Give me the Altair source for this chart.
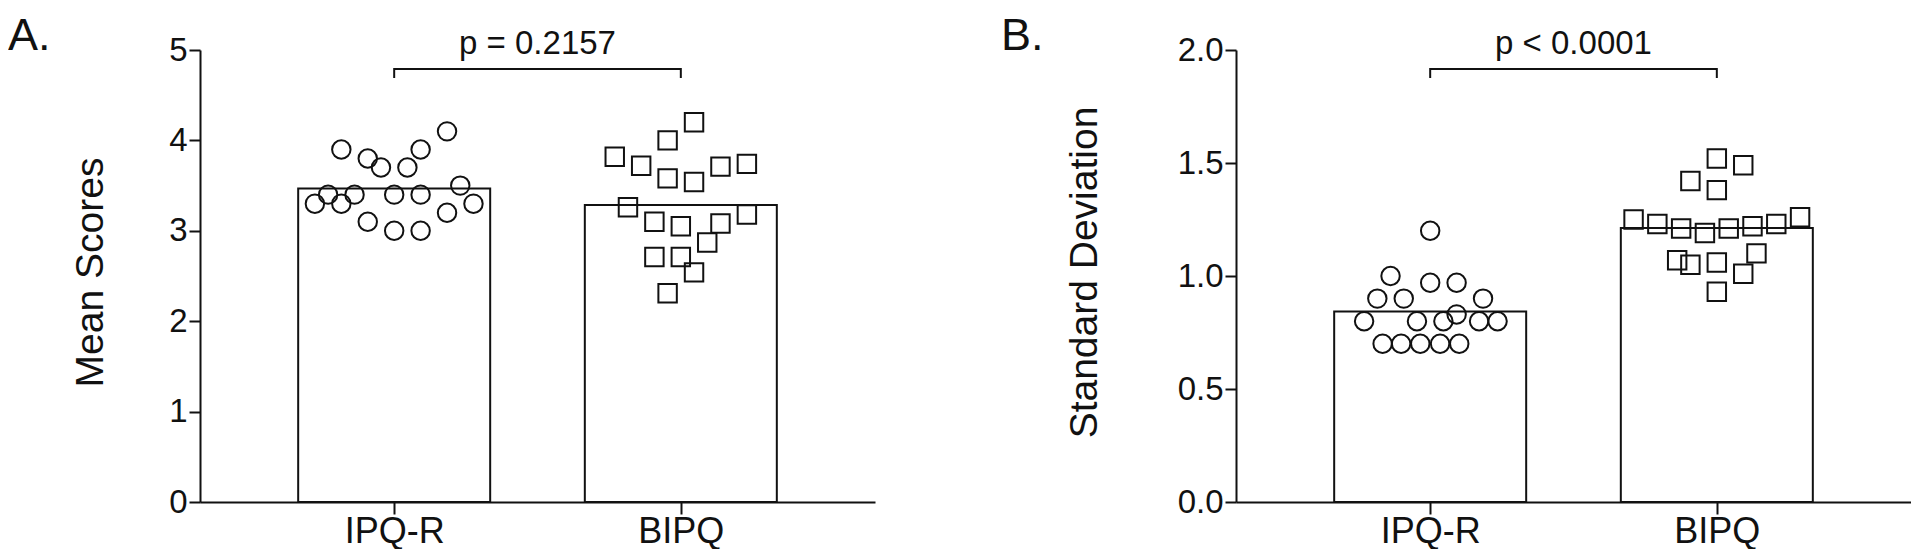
import altair as alt
import pandas as pd

# ---------------- data ----------------
groups = ["IPQ-R", "BIPQ"]

# Panel A: mean scores (value) and beeswarm slot offsets (in half-symbol units)
a_ipqr_vals = [3.9, 3.8, 3.7, 3.7, 3.9, 4.1, 3.4, 3.4, 3.4, 3.4, 3.5, 3.3, 3.3, 3.3, 3.1, 3.0, 3.0, 3.2]
a_ipqr_off = [-4, -2, -1, 1, 2, 4, -5, -3, 0, 2, 5, -6, -4, 6, -2, 0, 2, 4]
a_bipq_vals = [4.2, 4.0, 3.82, 3.72, 3.58, 3.54, 3.71, 3.74, 3.26, 3.10, 3.05, 3.08, 3.18, 2.87, 2.71, 2.71, 2.54, 2.31]
a_bipq_off = [1, -1, -5, -3, -1, 1, 3, 5, -4, -2, 0, 3, 5, 2, -2, 0, 1, -1]

# Panel B: standard deviations
b_ipqr_vals = [1.2, 1.0, 0.97, 0.97, 0.9, 0.9, 0.9, 0.8, 0.8, 0.8, 0.83, 0.8, 0.8, 0.7, 0.7, 0.7, 0.7, 0.7]
b_ipqr_off = [0, -3, 0, 2, -4, -2, 4, -5, -1, 1, 2, 3.7, 5.1, -3.6, -2.2, -0.75, 0.75, 2.2]
b_bipq_vals = [1.52, 1.49, 1.42, 1.38, 1.25, 1.23, 1.21, 1.19, 1.21, 1.22, 1.23, 1.26, 1.07, 1.05, 1.06, 1.10, 1.01, 0.93]
b_bipq_off = [0, 2, -2, 0, -6.3, -4.5, -2.7, -0.9, 0.9, 2.7, 4.5, 6.3, -3, -2, 0, 3, 2, 0]

a_ticks = [0, 1, 2, 3, 4, 5]
b_ticks = [0, 0.5, 1.0, 1.5, 2.0]
p_texts = ["p = 0.2157", "p < 0.0001"]
panel_labels = ["A.", "B."]
y_titles = ["Mean Scores", "Standard Deviation"]

# ---------------- styling ----------------
W, H = 675, 452
FONT = "Liberation Sans"
INK = "#111111"
X_DOMAIN = [-0.66, 1.66]      # category index space (group 0 and 1)
OFF_UNIT = 0.0461             # one beeswarm slot in category-index units
BAR_W = 192                   # bar width in pixels


def panel(v1, o1, v2, o2, ymax, ticks, fmt, ytitle, ptext, label, label_x, title_x):
    df = pd.DataFrame({
        "idx": [0] * len(v1) + [1] * len(v2),
        "value": v1 + v2,
        "off": o1 + o2,
    })
    df["xpos"] = df["idx"] + df["off"] * OFF_UNIT

    label_expr = "[" + ",".join(f"'{g}'" for g in groups) + "][datum.value]"
    xscale = alt.Scale(domain=X_DOMAIN, nice=False, zero=False)
    xaxis = alt.Axis(title=None, values=[0, 1], labelExpr=label_expr, labelFont=FONT,
                     labelFontSize=36, labelColor=INK, labelAngle=0, labelPadding=0,
                     tickSize=12, tickWidth=2, tickColor=INK, domainColor=INK,
                     domainWidth=2, grid=False, labelFlush=False)
    yscale = alt.Scale(domain=[0, ymax], nice=False, zero=True)
    yaxis = alt.Axis(title=ytitle, values=ticks, format=fmt, labelFont=FONT,
                     labelFontSize=33, labelColor=INK, labelPadding=2,
                     tickSize=11, tickWidth=2, tickColor=INK, domainColor=INK,
                     domainWidth=2, grid=False, titleFont=FONT, titleFontSize=39,
                     titleFontWeight="normal", titleColor=INK, titleAngle=270,
                     titleBaseline="bottom", titleAlign="center",
                     titleX=title_x, titleY=H / 2 - 4)

    base = alt.Chart(df)
    bars = base.mark_bar(fill="white", stroke=INK, strokeWidth=2, width=BAR_W).encode(
        x=alt.X("idx:Q", scale=xscale, axis=xaxis),
        y=alt.Y("mean(value):Q", scale=yscale, axis=yaxis),
    )
    pts = base.mark_point(filled=False, color=INK, strokeWidth=2, size=340, opacity=1).encode(
        x=alt.X("xpos:Q"),
        y=alt.Y("value:Q"),
        shape=alt.Shape("idx:N", scale=alt.Scale(domain=[0, 1], range=["circle", "square"]),
                        legend=None),
    )

    br = pd.DataFrame({"idx": [0, 1]})
    br_line = alt.Chart(br).mark_line(stroke=INK, strokeWidth=2).encode(
        x=alt.X("idx:Q"), y=alt.value(19)
    )
    br_ticks = alt.Chart(br).mark_rule(stroke=INK, strokeWidth=2).encode(
        x=alt.X("idx:Q"), y=alt.value(18), y2=alt.value(28)
    )
    ptxt = alt.Chart(pd.DataFrame({"t": [ptext]})).mark_text(
        font=FONT, fontSize=33, color=INK, align="center", baseline="alphabetic"
    ).encode(text="t:N", x=alt.value(W / 2), y=alt.value(4))
    lab = alt.Chart(pd.DataFrame({"t": [label]})).mark_text(
        font=FONT, fontSize=45, color=INK, align="left", baseline="top"
    ).encode(text="t:N", x=alt.value(label_x), y=alt.value(-36))

    return alt.layer(bars, pts, br_line, br_ticks, ptxt, lab).properties(width=W, height=H)


pa = panel(a_ipqr_vals, a_ipqr_off, a_bipq_vals, a_bipq_off, 5, a_ticks, "d",
           y_titles[0], p_texts[0], panel_labels[0], -192, -90)
pb = panel(b_ipqr_vals, b_ipqr_off, b_bipq_vals, b_bipq_off, 2, b_ticks, ".1f",
           y_titles[1], p_texts[1], panel_labels[1], -235, -132)

chart = alt.hconcat(pa, pb, spacing=126).properties(
    padding={"left": 0, "top": 6, "right": 0, "bottom": 0},
    background="white",
).configure_view(stroke=None)

chart.save("out.html", embed_options={"renderer": "svg", "actions": False})
